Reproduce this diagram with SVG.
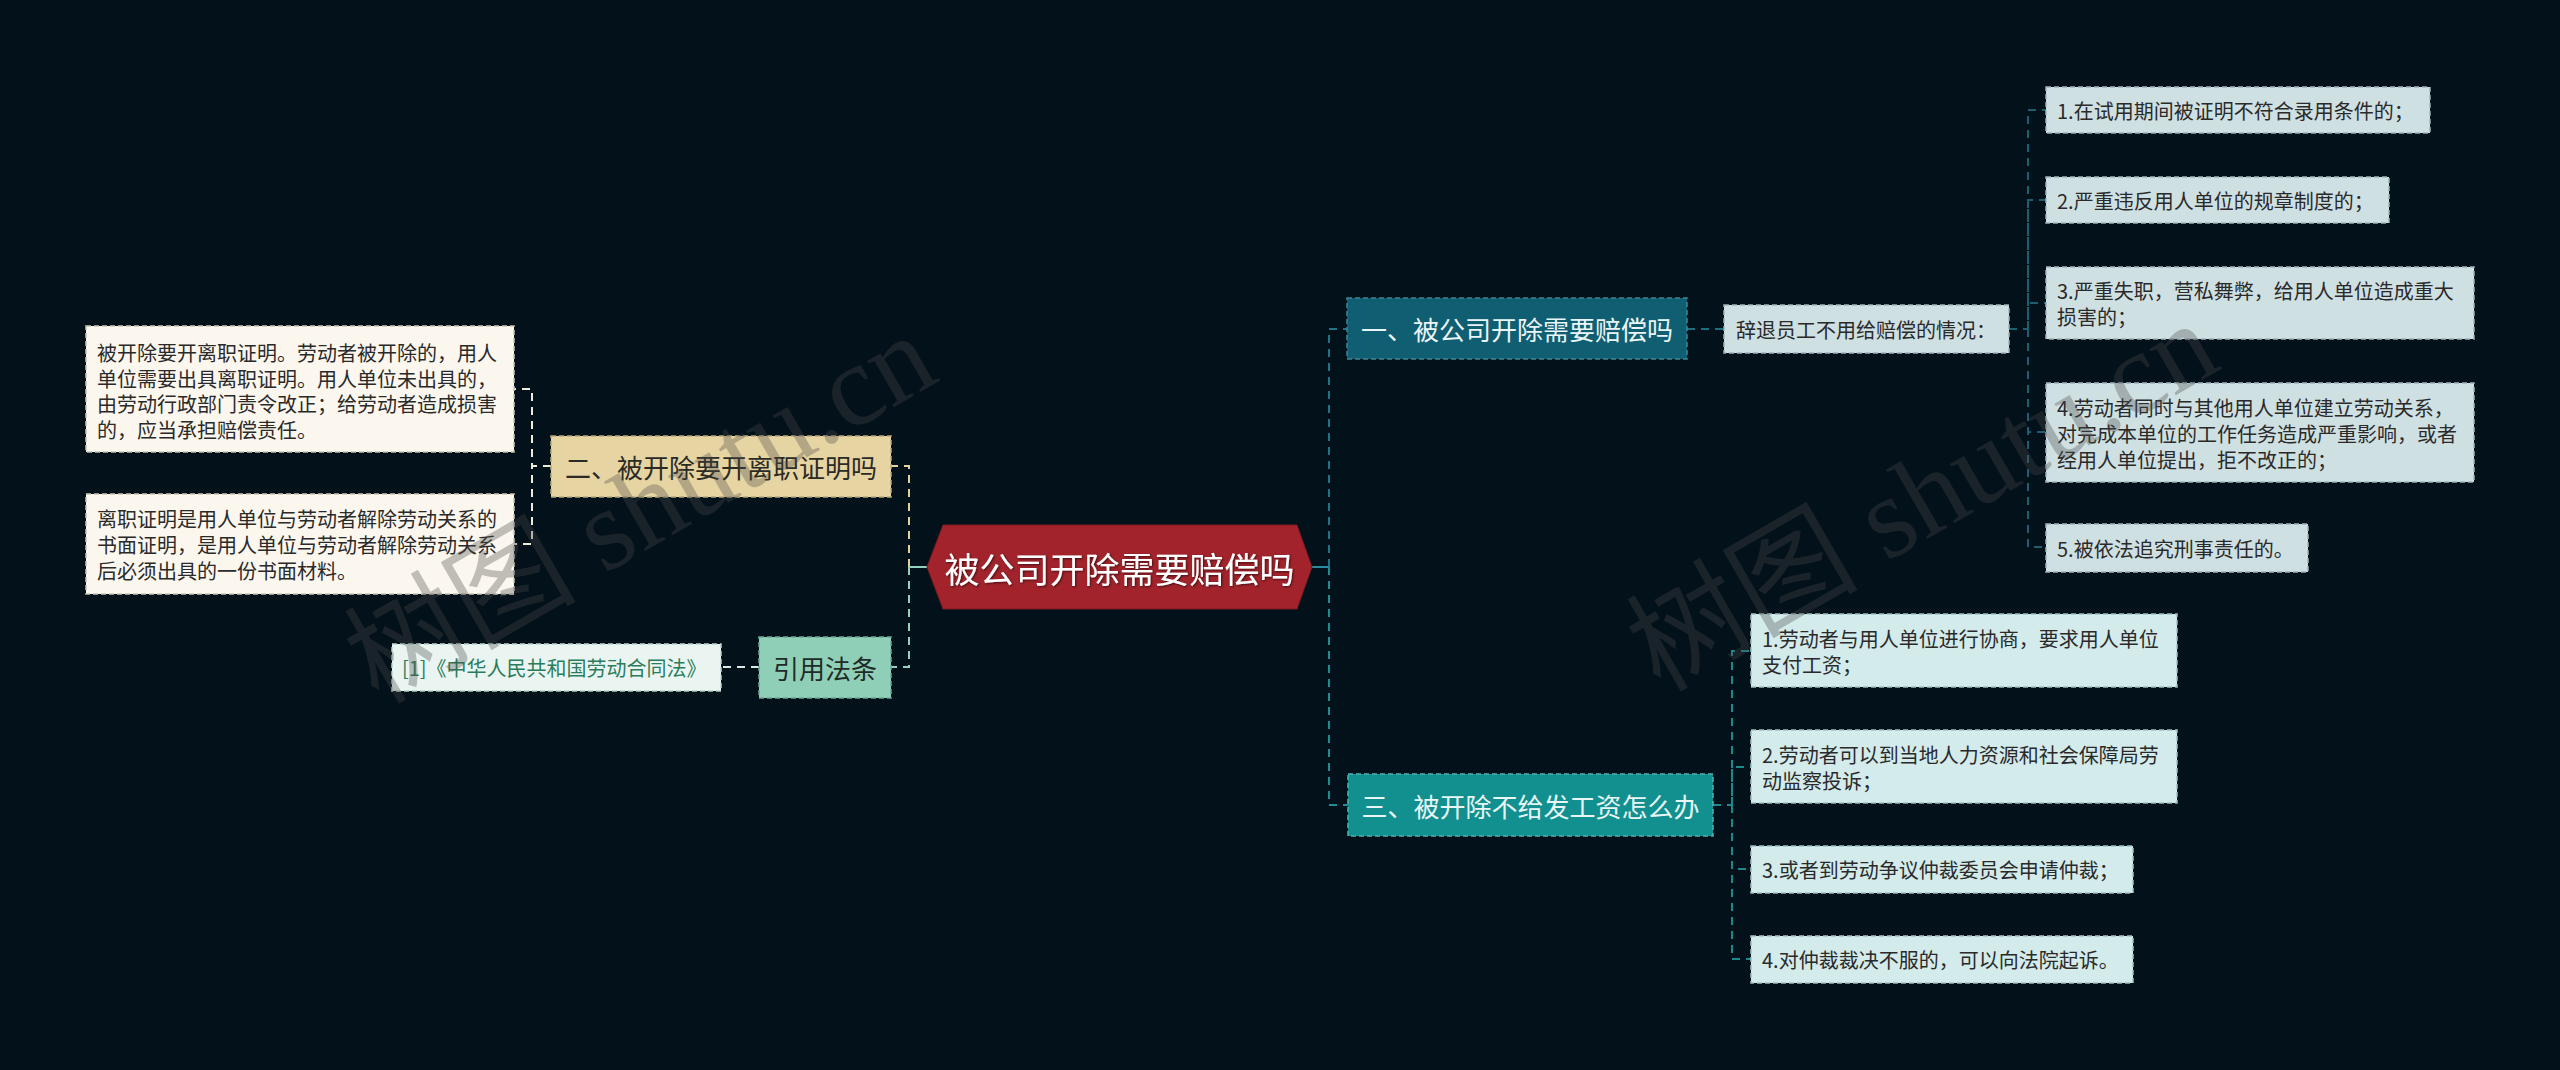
<svg xmlns="http://www.w3.org/2000/svg" width="2560" height="1070" viewBox="0 0 2560 1070">
<defs>
<style>
.t{font-family:"Noto Sans CJK SC","Noto Sans",sans-serif;dominant-baseline:central}
.s20{font-size:20px;fill:#2a2a2a}
.s26{font-size:26px}
.box{stroke-width:1.5;stroke-dasharray:5 3}
.c{fill:none;stroke-width:2;stroke-dasharray:8 6}
.wm{font-family:"Liberation Serif","Noto Sans CJK SC",serif;font-size:116px;fill:#4a4a4a;opacity:0.33}
</style>
<filter id="sh" x="-10%" y="-30%" width="120%" height="160%">
<feDropShadow dx="1" dy="1" stdDeviation="0.8" flood-color="#000" flood-opacity="0.6"/>
</filter>
</defs>
<rect width="2560" height="1070" fill="#03111a"/>

<g id="connectors">
<path class="c" stroke="#f1ebda" d="M551,466 H532 V389 H514"/>
<path class="c" stroke="#f1ebda" d="M551,466 H532 V544 H514"/>
<path class="c" stroke="#e3d19f" d="M909,567 V466 H891"/>
<path class="c" stroke="#94d2bf" d="M909,567 V667 H891"/>
<path fill="none" stroke="#94d2bf" stroke-width="2" d="M909,567 H927"/>
<path class="c" stroke="#d5ece4" d="M759,667 H721"/>
<path fill="none" stroke="#2a8c9c" stroke-width="2" d="M1312,567 H1329"/>
<path class="c" stroke="#1f7386" d="M1329,567 V329 H1347"/>
<path class="c" stroke="#1c8e93" d="M1329,567 V805 H1348"/>
<path class="c" stroke="#1f6e80" d="M1687,329 H1724"/>
<path class="c" stroke="#1d5f70" d="M2009,329 H2028 V110 H2046"/>
<path class="c" stroke="#1d5f70" d="M2028,329 V200 H2046"/>
<path class="c" stroke="#1d5f70" d="M2028,329 V303 H2046"/>
<path class="c" stroke="#1d5f70" d="M2028,329 V432 H2046"/>
<path class="c" stroke="#1d5f70" d="M2028,329 V547 H2046"/>
<path class="c" stroke="#1a8a8c" d="M1713,805 H1732 V651 H1751"/>
<path class="c" stroke="#1a8a8c" d="M1732,805 V767 H1751"/>
<path class="c" stroke="#1a8a8c" d="M1732,805 V869 H1751"/>
<path class="c" stroke="#1a8a8c" d="M1732,805 V959 H1751"/>
</g>

<g id="center">
<polygon points="927,567 943,525 1297,525 1312,567 1297,609 943,609" fill="#a2232b" stroke="#7e1a20" stroke-width="1"/>
<text class="t" x="1119.5" y="567" text-anchor="middle" font-size="35" fill="#ffffff" filter="url(#sh)">被公司开除需要赔偿吗</text>
</g>

<g id="n2">
<rect class="box" x="551" y="436" width="340" height="61" fill="#e6d4a2" stroke="#b9a878"/>
<text class="t s26" x="721" y="466.5" text-anchor="middle" fill="#2b2b26">二、被开除要开离职证明吗</text>
</g>
<g id="n2a">
<rect class="box" x="86" y="326" width="428" height="126" fill="#fbf7ee" stroke="#c9c4b6"/>
<text class="t s20" x="97"><tspan x="97" y="352">被开除要开离职证明。劳动者被开除的，用人</tspan><tspan x="97" y="377.5">单位需要出具离职证明。用人单位未出具的，</tspan><tspan x="97" y="403">由劳动行政部门责令改正；给劳动者造成损害</tspan><tspan x="97" y="428.5">的，应当承担赔偿责任。</tspan></text>
</g>
<g id="n2b">
<rect class="box" x="86" y="494" width="428" height="100" fill="#fbf7ee" stroke="#c9c4b6"/>
<text class="t s20" x="97"><tspan x="97" y="518">离职证明是用人单位与劳动者解除劳动关系的</tspan><tspan x="97" y="544">书面证明，是用人单位与劳动者解除劳动关系</tspan><tspan x="97" y="570">后必须出具的一份书面材料。</tspan></text>
</g>

<g id="ref">
<rect class="box" x="759" y="637" width="132" height="61" fill="#8fcfb7" stroke="#6aa893"/>
<text class="t s26" x="825" y="667" text-anchor="middle" fill="#1e2b27">引用法条</text>
</g>
<g id="ref1">
<rect class="box" x="392" y="644" width="329" height="47" fill="#eaf5f1" stroke="#b8d3ca"/>
<text class="t" x="402" y="667" font-size="20" fill="#2a7d5c">[1]《中华人民共和国劳动合同法》</text>
</g>

<g id="n1">
<rect class="box" x="1347" y="298" width="340" height="61" fill="#0f5e72" stroke="#3a8698"/>
<text class="t s26" x="1517" y="328.5" text-anchor="middle" fill="#eaf5f7">一、被公司开除需要赔偿吗</text>
</g>
<g id="n1a">
<rect class="box" x="1724" y="305" width="285" height="48" fill="#cfe0e3" stroke="#9fb3b8"/>
<text class="t s20" x="1736" y="329">辞退员工不用给赔偿的情况：</text>
</g>
<g id="n1a1">
<rect class="box" x="2046" y="87" width="384" height="46" fill="#cfe0e3" stroke="#9fb3b8"/>
<text class="t s20" x="2057" y="110">1.在试用期间被证明不符合录用条件的；</text>
</g>
<g id="n1a2">
<rect class="box" x="2046" y="177" width="343" height="46" fill="#cfe0e3" stroke="#9fb3b8"/>
<text class="t s20" x="2057" y="200">2.严重违反用人单位的规章制度的；</text>
</g>
<g id="n1a3">
<rect class="box" x="2046" y="267" width="428" height="72" fill="#cfe0e3" stroke="#9fb3b8"/>
<text class="t s20" x="2057"><tspan x="2057" y="290">3.严重失职，营私舞弊，给用人单位造成重大</tspan><tspan x="2057" y="316">损害的；</tspan></text>
</g>
<g id="n1a4">
<rect class="box" x="2046" y="383" width="428" height="99" fill="#cfe0e3" stroke="#9fb3b8"/>
<text class="t s20" x="2057"><tspan x="2057" y="406.5">4.劳动者同时与其他用人单位建立劳动关系，</tspan><tspan x="2057" y="432.5">对完成本单位的工作任务造成严重影响，或者</tspan><tspan x="2057" y="458.5">经用人单位提出，拒不改正的；</tspan></text>
</g>
<g id="n1a5">
<rect class="box" x="2046" y="524" width="262" height="48" fill="#cfe0e3" stroke="#9fb3b8"/>
<text class="t s20" x="2057" y="548">5.被依法追究刑事责任的。</text>
</g>

<g id="n3">
<rect class="box" x="1348" y="774" width="365" height="62" fill="#12908f" stroke="#4fb3b1"/>
<text class="t s26" x="1530.5" y="805" text-anchor="middle" fill="#e8f7f6">三、被开除不给发工资怎么办</text>
</g>
<g id="n3a">
<rect class="box" x="1751" y="614" width="426" height="73" fill="#d3ebeb" stroke="#a0c0c0"/>
<text class="t s20" x="1762"><tspan x="1762" y="638">1.劳动者与用人单位进行协商，要求用人单位</tspan><tspan x="1762" y="664">支付工资；</tspan></text>
</g>
<g id="n3b">
<rect class="box" x="1751" y="730" width="426" height="73" fill="#d3ebeb" stroke="#a0c0c0"/>
<text class="t s20" x="1762"><tspan x="1762" y="754">2.劳动者可以到当地人力资源和社会保障局劳</tspan><tspan x="1762" y="780">动监察投诉；</tspan></text>
</g>
<g id="n3c">
<rect class="box" x="1751" y="846" width="382" height="47" fill="#d3ebeb" stroke="#a0c0c0"/>
<text class="t s20" x="1762" y="869.5">3.或者到劳动争议仲裁委员会申请仲裁；</text>
</g>
<g id="n3d">
<rect class="box" x="1751" y="936" width="382" height="47" fill="#d3ebeb" stroke="#a0c0c0"/>
<text class="t s20" x="1762" y="959.5">4.对仲裁裁决不服的，可以向法院起诉。</text>
</g>

<g id="watermark">
<text class="wm" x="378" y="705" transform="rotate(-30 378 705)">树图 shutu.cn</text>
<text class="wm" x="1660" y="693" transform="rotate(-30 1660 693)">树图 shutu.cn</text>
</g>
</svg>
